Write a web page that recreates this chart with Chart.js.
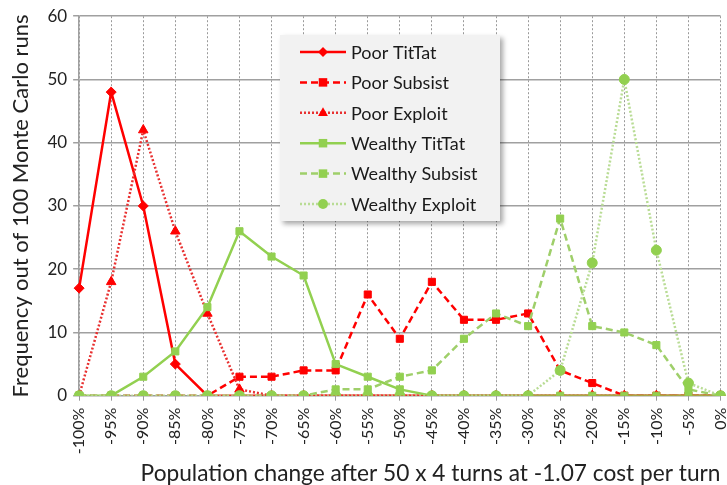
<!DOCTYPE html>
<html>
<head>
<meta charset="utf-8">
<script src="https://cdn.jsdelivr.net/npm/chart.js@4.4.1/dist/chart.umd.min.js"></script>
<style>
html,body{margin:0;padding:0;background:#fff;}
#wrap{width:727px;height:485px;position:relative;}
</style>
</head>
<body>
<div id="wrap"><canvas id="c" width="727" height="485"></canvas></div>
<script>
const categories = ['-100%','-95%','-90%','-85%','-80%','-75%','-70%','-65%','-60%','-55%','-50%','-45%','-40%','-35%','-30%','-25%','-20%','-15%','-10%','-5%','0%'];
const poorTitTat      = [17,48,30,5,0,0,0,0,0,0,0,0,0,0,0,0,0,0,0,0,0];
const poorSubsist     = [0,0,0,0,0,3,3,4,4,16,9,18,12,12,13,4,2,0,0,0,0];
const poorExploit     = [0,18,42,26,13,1,0,0,0,0,0,0,0,0,0,0,0,0,0,0,0];
const wealthyTitTat   = [0,0,3,7,14,26,22,19,5,3,1,0,0,0,0,0,0,0,0,0,0];
const wealthySubsist  = [0,0,0,0,0,0,0,0,1,1,3,4,9,13,11,28,11,10,8,1,0];
const wealthyExploit  = [0,0,0,0,0,0,0,0,0,0,0,0,0,0,0,4,21,50,23,2,0];
const yTicks = [0,10,20,30,40,50,60];

const RED = '#ff0000';
const GREEN = '#92d050';
const FONT = 'Lato, "Open Sans", "Liberation Sans", sans-serif';

function ds(label, data, color, lineColor, dash, style, radius, order) {
  return {
    label, data,
    borderColor: lineColor, backgroundColor: color,
    pointBackgroundColor: color, pointBorderColor: color,
    borderWidth: 2.5, borderDash: dash,
    pointStyle: style, pointRadius: radius, pointBorderWidth: 1,
    tension: 0, order
  };
}

const datasets = [
  ds('Poor TitTat', poorTitTat, RED, RED, [], 'rectRot', 5, 6),
  ds('Poor Subsist', poorSubsist, RED, RED, [7,4], 'rect', 5, 5),
  ds('Poor Exploit', poorExploit, RED, '#e83030', [2,2], 'triangle', 5.5, 4),
  ds('Wealthy TitTat', wealthyTitTat, GREEN, GREEN, [], 'rect', 5, 3),
  ds('Wealthy Subsist', wealthySubsist, GREEN, '#9fcf6a', [7,4], 'rect', 5, 2),
  ds('Wealthy Exploit', wealthyExploit, GREEN, '#b9dc95', [2,2], 'circle', 5, 1)
];

function drawMarker(ctx, style, x, y, r, color) {
  ctx.save();
  ctx.fillStyle = color;
  ctx.beginPath();
  if (style === 'rectRot') {
    ctx.moveTo(x, y - r); ctx.lineTo(x + r, y); ctx.lineTo(x, y + r); ctx.lineTo(x - r, y); ctx.closePath();
  } else if (style === 'rect') {
    const s = r * 0.85;
    ctx.rect(x - s, y - s, 2 * s, 2 * s);
  } else if (style === 'triangle') {
    ctx.moveTo(x, y - r); ctx.lineTo(x + r * 0.9, y + r * 0.6); ctx.lineTo(x - r * 0.9, y + r * 0.6); ctx.closePath();
  } else {
    ctx.arc(x, y, r, 0, Math.PI * 2);
  }
  ctx.fill();
  ctx.restore();
}

const legendPlugin = {
  id: 'customLegend',
  afterDraw(chart) {
    const ctx = chart.ctx;
    const bx = 280, by = 35, bw = 220, bh = 186;
    ctx.save();
    ctx.shadowColor = 'rgba(0,0,0,0.35)';
    ctx.shadowBlur = 5;
    ctx.shadowOffsetX = 3;
    ctx.shadowOffsetY = 3;
    ctx.fillStyle = '#f2f2f2';
    ctx.fillRect(bx, by, bw, bh);
    ctx.restore();
    ctx.save();
    ctx.font = '18px ' + FONT;
    ctx.textBaseline = 'middle';
    ctx.fillStyle = '#1a1a1a';
    chart.data.datasets.forEach((d, i) => {
      const y = 52 + i * 30.4;
      ctx.save();
      ctx.strokeStyle = d.borderColor;
      ctx.lineWidth = 2.5;
      ctx.setLineDash(d.borderDash);
      ctx.beginPath();
      ctx.moveTo(300, y); ctx.lineTo(346, y);
      ctx.stroke();
      ctx.restore();
      drawMarker(ctx, d.pointStyle, 323, y, d.pointRadius, d.pointBackgroundColor);
      ctx.fillText(d.label, 351, y + 1);
    });
    ctx.restore();
  }
};

new Chart(document.getElementById('c'), {
  type: 'line',
  data: { labels: categories, datasets },
  plugins: [legendPlugin],
  options: {
    responsive: false,
    animation: false,
    layout: { padding: { top: 8, right: 0, bottom: 0, left: 8 } },
    plugins: { legend: { display: false }, tooltip: { enabled: false } },
    scales: {
      x: {
        offset: false,
        grid: { color: '#9a9a9a', lineWidth: 1, drawTicks: true, tickLength: 5 },
        border: { display: true, color: '#9a9a9a', width: 1, dash: [2,2] },
        ticks: { color: '#222', font: { family: FONT, size: 16 }, minRotation: 90, maxRotation: 90, autoSkip: false, padding: 7 },
        title: { display: true, align: 'end', text: 'Population change after 50 x 4 turns at -1.07 cost per turn', color: '#222', font: { family: FONT, size: 22.7, lineHeight: 1.0 }, padding: { top: 1, bottom: 0 } },
        afterFit(scale) { scale.paddingRight = 3; scale.paddingLeft = 0; }
      },
      y: {
        min: 0, max: 60,
        afterBuildTicks(scale) { scale.ticks = yTicks.map(v => ({ value: v })); },
        grid: { color: '#a0a0a0', lineWidth: 1.5, tickLength: 6 },
        border: { display: true, color: '#a0a0a0', width: 1.5 },
        ticks: { color: '#222', font: { family: FONT, size: 17 }, padding: 6 },
        title: { display: true, text: 'Frequency out of 100 Monte Carlo runs', color: '#222', font: { family: FONT, size: 22 }, padding: { top: 0, bottom: 7 } }
      }
    }
  }
});
</script>
</body>
</html>
